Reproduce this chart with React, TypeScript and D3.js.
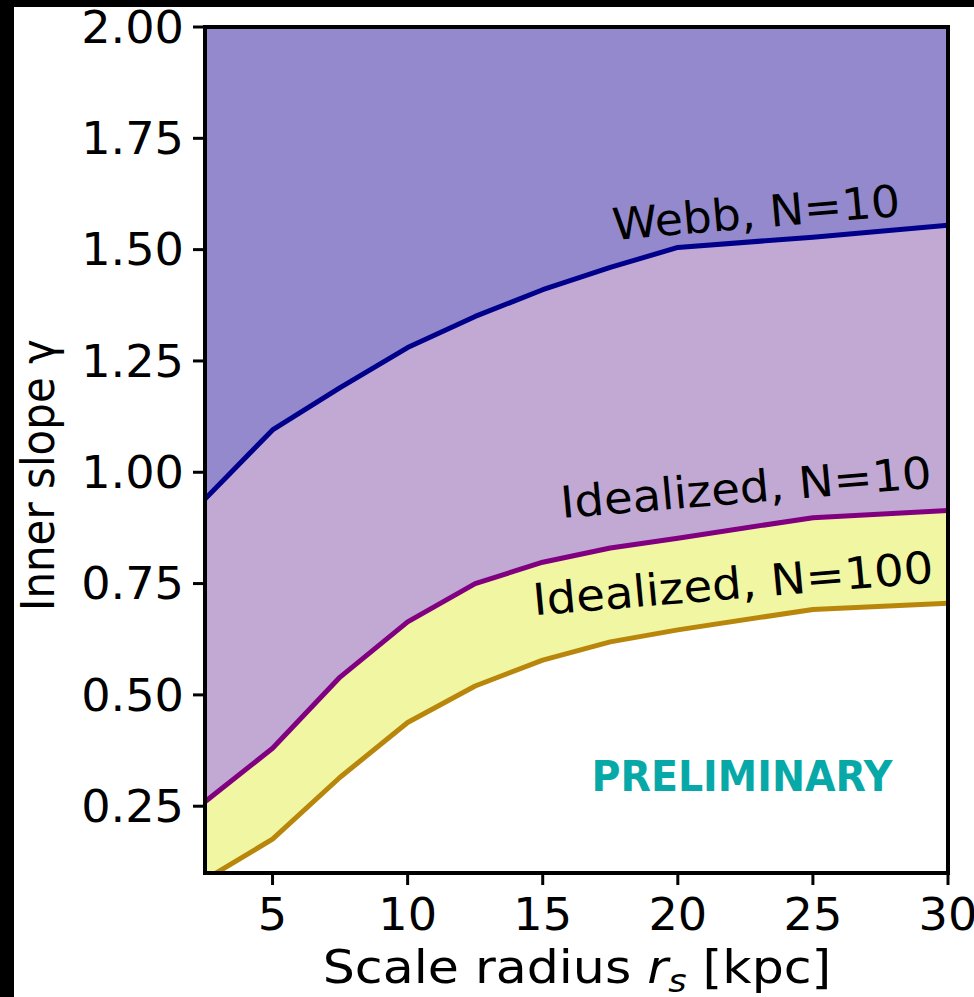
import React from "react";
import * as d3 from "d3";

// Scale radius values (kpc) at which the detection limits were computed
const radii = [2.5, 5, 7.5, 10, 12.5, 15, 17.5, 20, 25, 30];
// Minimum detectable inner slope for each configuration
const webbN10 = [0.94, 1.095, 1.19, 1.28, 1.35, 1.41, 1.46, 1.505, 1.528, 1.555];
const idealN10 = [0.26, 0.38, 0.54, 0.664, 0.75, 0.798, 0.83, 0.852, 0.898, 0.914];
const idealN100 = [0.085, 0.176, 0.315, 0.438, 0.52, 0.578, 0.619, 0.646, 0.692, 0.706];

const xTicks = [5, 10, 15, 20, 25, 30];
const yTicks = [0.25, 0.5, 0.75, 1.0, 1.25, 1.5, 1.75, 2.0];

const W = 974;
const H = 997;
const M = { left: 205, right: 948, top: 27, bottom: 873 };

const FONT = "DejaVu Sans, sans-serif";

const x = d3.scaleLinear().domain([2.5, 30]).range([M.left, M.right]);
const y = d3.scaleLinear().domain([0.1, 2.0]).range([M.bottom, M.top]);

const rows = radii.map((r, i) => ({ r, webb: webbN10[i], i10: idealN10[i], i100: idealN100[i] }));
type Row = (typeof rows)[number];

const areaBetween = (top: (d: Row) => number, bot: (d: Row) => number) =>
  d3
    .area<Row>()
    .x((d) => x(d.r))
    .y0((d) => y(bot(d)))
    .y1((d) => y(top(d)))(rows) as string;

const lineOf = (f: (d: Row) => number) =>
  d3
    .line<Row>()
    .x((d) => x(d.r))
    .y((d) => y(f(d)))(rows) as string;

function SText(props: {
  x: number;
  y: number;
  rot?: number;
  size: number;
  sx?: number;
  anchor?: string;
  children: React.ReactNode;
  dy?: string;
  fill?: string;
}) {
  const { rot = 0, anchor = "middle", fill = "#000", sx = 1.05 } = props;
  return (
    <g transform={`translate(${props.x},${props.y}) scale(${sx},1) rotate(${rot})`}>
      <text fontFamily={FONT} fontSize={props.size} textAnchor={anchor} dy={props.dy} fill={fill}>
        {props.children}
      </text>
    </g>
  );
}

export default function App() {
  return (
    <svg
      width={W}
      height={H}
      style={{ position: "absolute", left: 0, top: 0, display: "block", background: "#fff" }}
    >
      <defs>
        <clipPath id="plot">
          <rect x={M.left} y={M.top} width={M.right - M.left} height={M.bottom - M.top} />
        </clipPath>
      </defs>
      <rect x={0} y={0} width={W} height={H} fill="#fff" />

      <g clipPath="url(#plot)">
        <path d={areaBetween(() => 2.0, (d) => d.webb)} fill="#9389cc" />
        <path d={areaBetween((d) => d.webb, (d) => d.i10)} fill="#c1a9d4" />
        <path d={areaBetween((d) => d.i10, (d) => d.i100)} fill="#f1f6a2" />
        <path d={lineOf((d) => d.webb)} fill="none" stroke="#00008b" strokeWidth={5} strokeLinejoin="round" />
        <path d={lineOf((d) => d.i10)} fill="none" stroke="#800080" strokeWidth={5} strokeLinejoin="round" />
        <path d={lineOf((d) => d.i100)} fill="none" stroke="#b8860b" strokeWidth={5} strokeLinejoin="round" />
      </g>

      {/* Curve labels */}
      <SText x={756} y={212} rot={-5} size={44} sx={1.04} dy="0.36em">Webb, N=10</SText>
      <SText x={746} y={487} rot={-5} size={44} sx={1.06} dy="0.36em">Idealized, N=10</SText>
      <SText x={733} y={583} rot={-5} size={44} sx={1.06} dy="0.36em">Idealized, N=100</SText>

      <text
        x={742}
        y={776}
        dy="0.36em"
        fontFamily="DejaVu Sans, sans-serif"
        fontWeight="bold"
        fontSize={42}
        fill="#07a8a8"
        textAnchor="middle"
        textLength={301}
        lengthAdjust="spacingAndGlyphs"
      >
        PRELIMINARY
      </text>

      {/* Frame */}
      <rect
        x={M.left}
        y={M.top}
        width={M.right - M.left}
        height={M.bottom - M.top}
        fill="none"
        stroke="#000"
        strokeWidth={4}
      />

      {/* Y axis ticks */}
      {yTicks.map((t) => (
        <g key={`y${t}`}>
          <line x1={M.left - 12} x2={M.left} y1={y(t)} y2={y(t)} stroke="#000" strokeWidth={3} />
          <SText x={M.left - 21} y={y(t)} size={44} anchor="end" dy="0.36em">
            {d3.format(".2f")(t)}
          </SText>
        </g>
      ))}

      {/* X axis ticks */}
      {xTicks.map((t) => (
        <g key={`x${t}`}>
          <line x1={x(t)} x2={x(t)} y1={M.bottom} y2={M.bottom + 12} stroke="#000" strokeWidth={3} />
          <SText x={x(t)} y={930} size={44}>
            {t}
          </SText>
        </g>
      ))}

      {/* Axis titles */}
      <SText x={577} y={983} size={46} sx={1.1}>
        Scale radius <tspan fontStyle="italic">r</tspan>
        <tspan fontStyle="italic" fontSize={32} dy={9}>s</tspan>
        <tspan dy={-9}> [kpc]</tspan>
      </SText>
      <SText x={54} y={475} rot={-90} size={42} sx={1.12}>
        Inner slope γ
      </SText>

      {/* Outer border strips */}
      <rect x={0} y={0} width={W} height={7} fill="#000" />
      <rect x={0} y={0} width={14} height={H} fill="#000" />
    </svg>
  );
}
